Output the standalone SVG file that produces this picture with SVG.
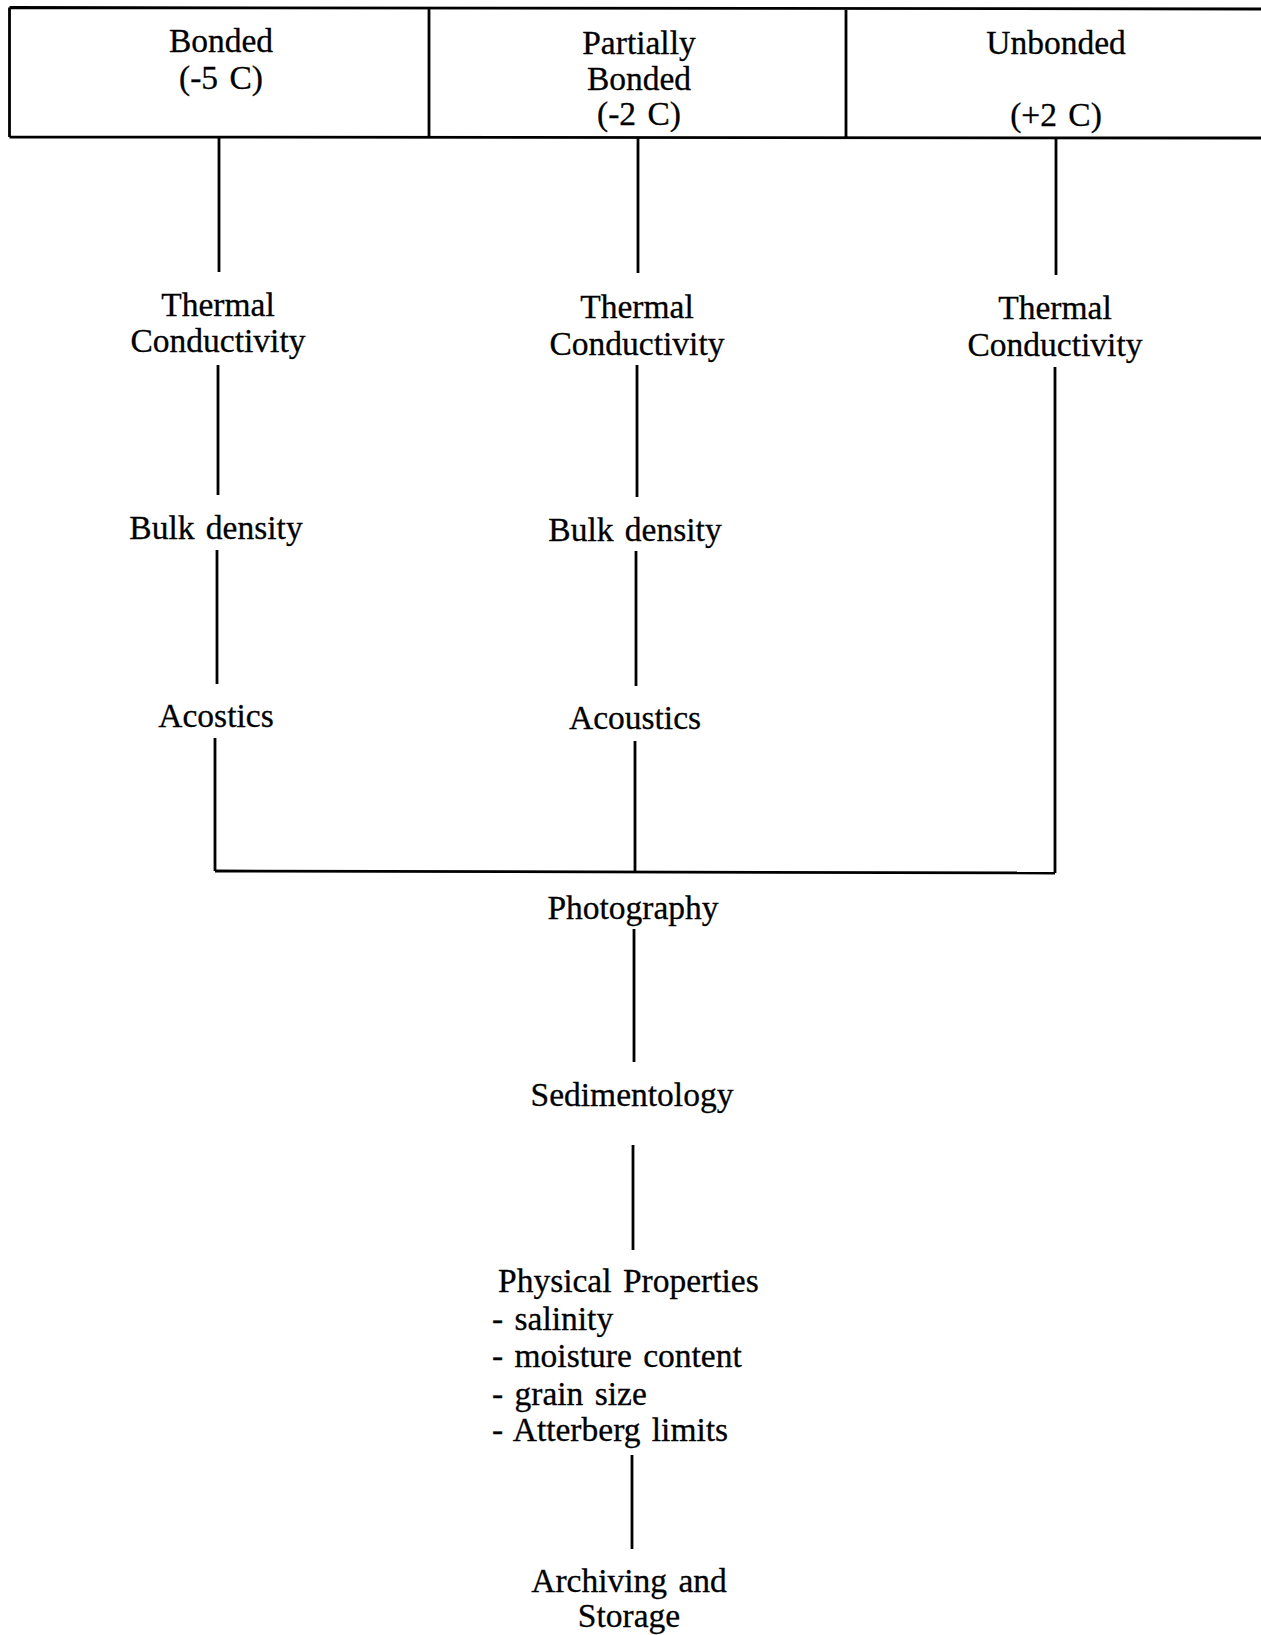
<svg xmlns="http://www.w3.org/2000/svg" width="1261" height="1635" viewBox="0 0 1261 1635">
<style>
text{font-family:"Liberation Serif","Times New Roman",serif;font-size:33.5px;fill:#000;stroke:#000;stroke-width:0.3;word-spacing:3px}
.c{text-anchor:middle}
.ln{stroke:#000;stroke-width:2.8;fill:none}
</style>
<rect width="1261" height="1635" fill="#fff"/>
<g id="header">
<path class="ln" d="M9.5,7.5 L1261,9 M9.5,137 L1261,138 M9.5,7.5 V137 M429,8 V137 M846,8.5 V137.5"/>
</g>
<g id="bonded"><text class="c" x="221" y="52">Bonded</text><text class="c" x="221" y="89">(-5 C)</text></g>
<g id="partially-bonded"><text class="c" x="639" y="54">Partially</text><text class="c" x="639" y="90">Bonded</text><text class="c" x="639" y="125">(-2 C)</text></g>
<g id="unbonded"><text class="c" x="1056" y="54">Unbonded</text><text class="c" x="1056" y="126">(+2 C)</text></g>
<g id="tc1"><text class="c" x="218" y="316">Thermal</text><text class="c" x="218" y="352">Conductivity</text></g>
<g id="bd1"><text class="c" x="216" y="539">Bulk density</text></g>
<g id="ac1"><text class="c" x="216" y="727">Acostics</text></g>
<g id="tc2"><text class="c" x="637" y="318">Thermal</text><text class="c" x="637" y="355">Conductivity</text></g>
<g id="bd2"><text class="c" x="635" y="541">Bulk density</text></g>
<g id="ac2"><text class="c" x="635" y="729">Acoustics</text></g>
<g id="tc3"><text class="c" x="1055" y="319">Thermal</text><text class="c" x="1055" y="356">Conductivity</text></g>
<g id="photography"><text class="c" x="633" y="919">Photography</text></g>
<g id="sedimentology"><text class="c" x="632" y="1106">Sedimentology</text></g>
<g id="physical-properties">
<text x="498" y="1292">Physical Properties</text>
<text x="492" y="1330">- salinity</text>
<text x="492" y="1367">- moisture content</text>
<text x="492" y="1405">- grain size</text>
<text x="492" y="1441">- Atterberg limits</text>
</g>
<g id="archiving"><text class="c" x="629" y="1592">Archiving and</text><text class="c" x="629" y="1627">Storage</text></g>
<g id="connectors">
<path class="ln" d="M219,137 V272 M218,365 V495 M217,550 V684 M215,738 V871"/>
<path class="ln" d="M638,138 V273 M637,365 V497 M636,551 V686 M635,741 V871"/>
<path class="ln" d="M1056,138 V275 M1055,367 V873"/>
<path class="ln" d="M215,871 L1055,873"/>
<path class="ln" d="M634,929 V1062 M633,1145 V1250 M632,1455 V1549"/>
</g>
</svg>
